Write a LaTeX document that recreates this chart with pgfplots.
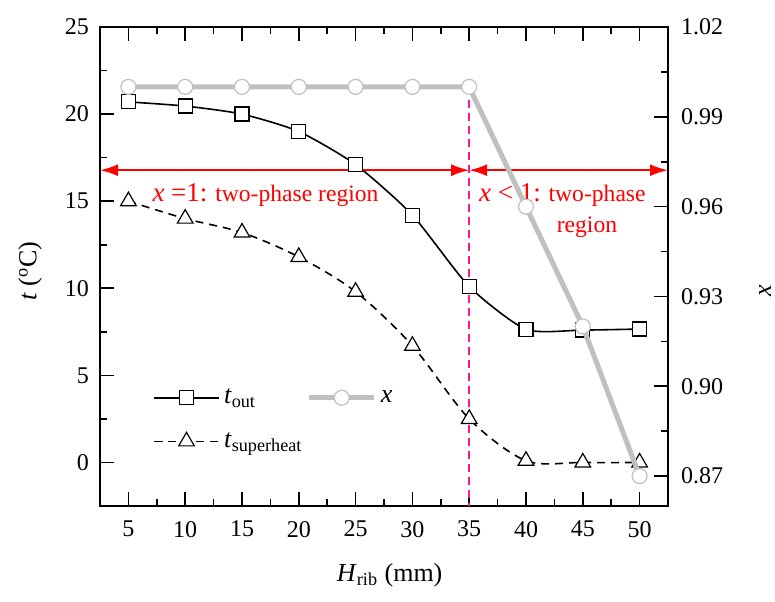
\documentclass[border=0pt]{standalone}
\usepackage{pgfplots}
\pgfplotsset{compat=1.18}
\usepackage{fontspec}
\setmainfont{Liberation Serif}
\usetikzlibrary{arrows.meta}

\definecolor{xgray}{RGB}{192,192,192}
\definecolor{divpink}{RGB}{255,20,147}

\newcommand{\bigpart}[1]{{\fontsize{13.5}{15}\selectfont #1}}

\begin{document}
\begin{tikzpicture}[font=\fontsize{12}{14}\selectfont]
\path[use as bounding box] (-50pt,-47.5pt) rectangle (337.5pt,253pt);
\pgfplotsset{
  every axis/.append style={
    scale only axis, width=284pt, height=239.5pt,
    xmin=2.5, xmax=52.5,
    tick align=inside,
    major tick length=7pt, minor tick length=3.5pt,
    every tick/.style={black, line width=0.8pt},
    axis line style={line width=1pt},
    /pgf/number format/assume math mode=true,
    tick label style={font=\fontsize{12}{14}\selectfont},
    label style={font=\fontsize{13}{15}\selectfont},
  },
}
\begin{axis}[
  at={(0,0)}, anchor=south west,
  ymin=-2.5, ymax=25,
  xtick={5,10,...,50}, minor x tick num=1,
  ytick={0,5,...,25}, minor y tick num=1,
  ytick pos=left,
  xticklabel style={yshift=-4pt},
  yticklabel style={xshift=-2pt},
  xlabel={\textit{H}\textsubscript{rib} (mm)},
  xlabel style={at={(axis description cs:0.51,-0.144)}, anchor=center},
  ylabel={\textit{t} (\textsuperscript{o}C)},
  ylabel style={at={(axis description cs:-0.123,0.49)}, anchor=center},
  legend columns=2,
  legend cell align=left,
  legend style={at={(axis description cs:0.082,0.262)}, anchor=north west,
    draw=none, fill=none, font=\fontsize{13}{15}\selectfont,
    /tikz/every even column/.append style={column sep=0pt},
    row sep=9pt},
  legend image code/.code={\draw[mark repeat=2,mark phase=2]
    plot coordinates {(0cm,0cm) (0.575cm,0cm) (1.15cm,0cm)};},
]
% outlet temperature
\addplot[black, line width=0.8pt, smooth, tension=0.38, mark=square*, mark size=3.5pt,
  mark options={fill=white, draw=black, line width=0.6pt}] coordinates {
  (5,20.7) (10,20.46) (15,20.0) (20,19.0) (25,17.1)
  (30,14.2) (35,10.1) (40,7.64) (45,7.6) (50,7.66)
};
\addlegendentry{\textit{t}\textsubscript{out}}
\addlegendimage{xgray, line width=2.5pt, mark=*, mark size=3.75pt,
  mark options={fill=white, draw=xgray, line width=0.6pt}}
\addlegendentry{\textit{x}}
% superheat
\addplot[black, line width=0.8pt, smooth, tension=0.5, dash pattern=on 4pt off 3pt,
  mark=triangle*, mark size=4.5pt,
  mark options={fill=white, draw=black, line width=0.6pt, solid}] coordinates {
  (5,15.0) (10,14.0) (15,13.2) (20,11.8) (25,9.8)
  (30,6.7) (35,2.5) (40,0.1) (45,0.0) (50,0.0)
};
\addlegendentry{\textit{t}\textsubscript{superheat}}

% region markers
\draw[divpink, line width=1pt, dash pattern=on 4pt off 2.5pt]
  (axis cs:35,21.55) -- (axis cs:35,-2.5);
\draw[red, line width=1pt, {Latex[length=9pt,width=6pt]}-{Latex[length=9pt,width=6pt]}]
  (axis cs:2.5,16.78) -- (axis cs:35,16.78);
\draw[red, line width=1pt, {Latex[length=9pt,width=6pt]}-{Latex[length=9pt,width=6pt]}]
  (axis cs:35,16.78) -- (axis cs:52.5,16.78);
\node[red, font=\fontsize{11.8}{13}\selectfont, anchor=base, inner sep=0pt]
  at (axis cs:17.07,14.97) {\bigpart{\textit{x} =1:} two-phase region};
\node[red, font=\fontsize{11.8}{13}\selectfont, anchor=base, inner sep=0pt]
  at (axis cs:43.2,14.97) {\bigpart{\textit{x} {\textless} 1:} two-phase};
\node[red, font=\fontsize{11.8}{13}\selectfont, anchor=base, inner sep=0pt]
  at (axis cs:45.37,13.2) {region};
\end{axis}

\begin{axis}[
  at={(0,0)}, anchor=south west,
  ymin=0.86, ymax=1.02,
  hide x axis, axis y line*=right,
  ytick={0.87,0.90,0.93,0.96,0.99,1.02}, minor y tick num=1,
  yticklabel style={xshift=3pt, /pgf/number format/fixed,
    /pgf/number format/fixed zerofill, /pgf/number format/precision=2},
  ylabel={\textit{x}},
  ylabel style={at={(axis description cs:1.171,0.45)}, anchor=center},
]
\addplot[xgray, line width=2.5pt, mark=*, mark size=3.75pt,
  mark options={fill=white, draw=xgray, line width=0.6pt}] coordinates {
  (5,1.0) (10,1.0) (15,1.0) (20,1.0) (25,1.0) (30,1.0) (35,1.0)
  (40,0.96) (45,0.92) (50,0.87)
};
\end{axis}
\end{tikzpicture}
\end{document}
